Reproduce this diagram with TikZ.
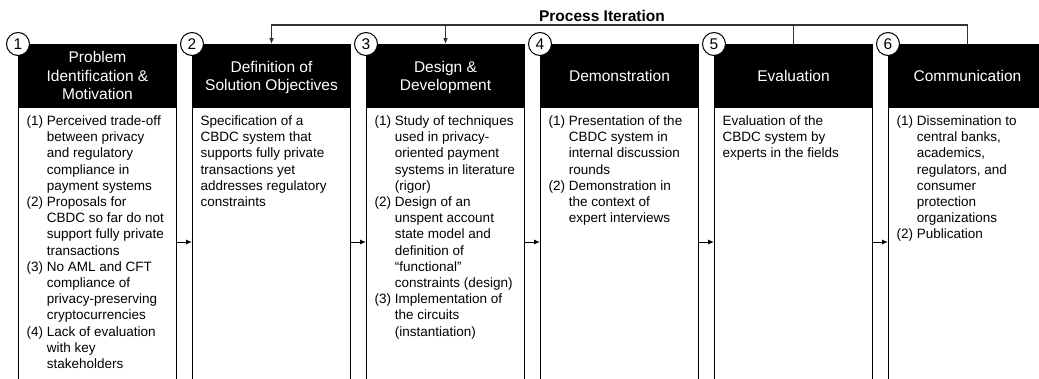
\documentclass[tikz,border=0pt]{standalone}
\usepackage{fontspec}
\setmainfont{Liberation Sans}
\usetikzlibrary{arrows.meta}
\newcommand\hs{\rule[-3.3pt]{0pt}{17.3pt}}
\newcommand\hi{\hphantom{(1)\ }}
\begin{document}
\begin{tikzpicture}[x=1pt,y=-1pt,
  hdr/.style={fill=black,draw=black,line width=1pt,minimum width=158pt,minimum height=63pt,inner sep=0pt,text=white,align=center,font=\fontsize{15.5}{18.5}\selectfont,anchor=north west},
  bodybox/.style={draw=black,line width=1pt,minimum width=158pt,minimum height=275pt,inner sep=0pt,anchor=north west},
  btext/.style={anchor=north west,inner sep=0pt,align=left,font=\fontsize{13.5}{16.2}\selectfont},
  num/.style={circle,draw=black,fill=white,line width=1pt,minimum size=23pt,inner sep=0pt,font=\fontsize{15.5}{18}\selectfont},
  arr/.style={-{Latex[length=6pt,width=5pt]}},
  conn/.style={line width=1pt,black},
  iter/.style={line width=1.3pt,black!80,line join=miter}
]
\useasboundingbox (0,0) rectangle (1039,378);
% headers
\node[hdr] (h1) at (18,44) {\hs Problem\\\hs Identification \&\\\hs Motivation};
\node[hdr] (h2) at (192,44) {\hs Definition of\\\hs Solution Objectives};
\node[hdr] (h3) at (366,44) {\hs Design \&\\\hs Development};
\node[hdr] (h4) at (540,44) {\hs Demonstration};
\node[hdr] (h5) at (714,44) {\hs Evaluation};
\node[hdr] (h6) at (888,44) {\hs Communication};
% bodies
\node[bodybox] (b1) at (18,107) {};
\node[bodybox] (b2) at (192,107) {};
\node[bodybox] (b3) at (366,107) {};
\node[bodybox] (b4) at (540,107) {};
\node[bodybox] (b5) at (714,107) {};
\node[bodybox] (b6) at (888,107) {};
% body texts
\node[btext] (t1) at (26.5,115.5) {(1) Perceived trade-off\\\hi between privacy\\\hi and regulatory\\\hi compliance in\\\hi payment systems\\(2) Proposals for\\\hi CBDC so far do not\\\hi support fully private\\\hi transactions\\(3) No AML and CFT\\\hi compliance of\\\hi privacy-preserving\\\hi cryptocurrencies\\(4) Lack of evaluation\\\hi with key\\\hi stakeholders};
\node[btext] (t2) at (200.5,115.5) {Specification of a\\CBDC system that\\supports fully private\\transactions yet\\addresses regulatory\\constraints};
\node[btext] (t3) at (374.5,115.5) {(1) Study of techniques\\\hi used in privacy-\\\hi oriented payment\\\hi systems in literature\\\hi (rigor)\\(2) Design of an\\\hi unspent account\\\hi state model and\\\hi definition of\\\hi “functional”\\\hi constraints (design)\\(3) Implementation of\\\hi the circuits\\\hi (instantiation)};
\node[btext] (t4) at (548.5,115.5) {(1) Presentation of the\\\hi CBDC system in\\\hi internal discussion\\\hi rounds\\(2) Demonstration in\\\hi the context of\\\hi expert interviews};
\node[btext] (t5) at (722.5,115.5) {Evaluation of the\\CBDC system by\\experts in the fields};
\node[btext] (t6) at (896.5,115.5) {(1) Dissemination to\\\hi central banks,\\\hi academics,\\\hi regulators, and\\\hi consumer\\\hi protection\\\hi organizations\\(2) Publication};
% number circles
\node[num] (n1) at (h1.north west) {1};
\node[num] (n2) at (h2.north west) {2};
\node[num] (n3) at (h3.north west) {3};
\node[num] (n4) at (h4.north west) {4};
\node[num] (n5) at (h5.north west) {5};
\node[num] (n6) at (h6.north west) {6};
% forward arrows
\coordinate (mid) at (0,242);
\draw[conn,arr] (b1.east |- mid) -- (b2.west |- mid);
\draw[conn,arr] (b2.east |- mid) -- (b3.west |- mid);
\draw[conn,arr] (b3.east |- mid) -- (b4.west |- mid);
\draw[conn,arr] (b4.east |- mid) -- (b5.west |- mid);
\draw[conn,arr] (b5.east |- mid) -- (b6.west |- mid);
% process iteration
\coordinate (top) at (0,25);
\draw[iter,arr] (h6.north) |- (h2.north |- top) -- (h2.north);
\draw[iter,arr] (h3.north |- top) -- (h3.north);
\draw[iter] (h5.north) -- (h5.north |- top);
\node[font=\bfseries\fontsize{15.5}{18}\selectfont,anchor=base,inner sep=0pt] (pi) at (602,21.5) {Process Iteration};
\end{tikzpicture}
\end{document}
